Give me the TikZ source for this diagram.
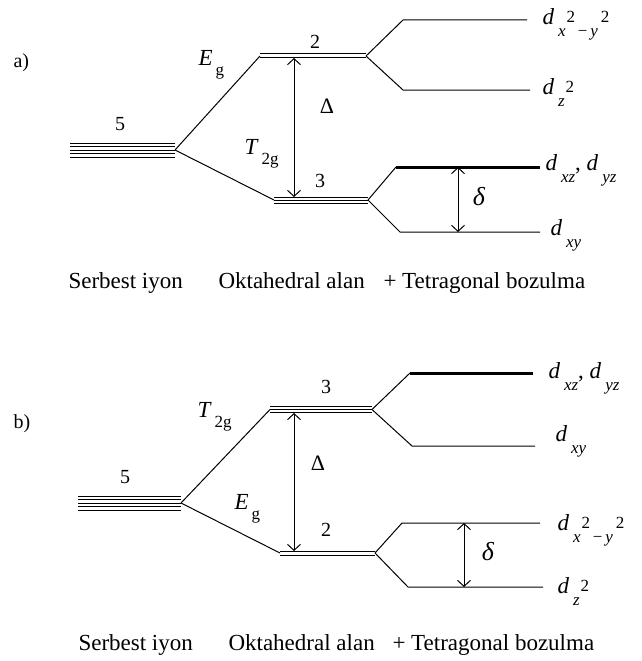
\documentclass[tikz,border=0pt]{standalone}
\usepackage{fontspec}
\setmainfont{Liberation Serif}
\usetikzlibrary{arrows.meta}

% orbital labels: italic d with a lowered italic index; the squares sit high, beside the index
\newcommand{\subsz}{\fontsize{17}{17}\selectfont}
\newcommand{\dorb}[1]{\textit{d}\hspace{4pt}\raisebox{-12pt}{\subsz\textit{#1}}}
\newcommand{\dxy}{\textit{d}\hspace{4pt}{\subsz\raisebox{-12pt}{\textit{x}}\hspace{1pt}\raisebox{2pt}{2}\raisebox{-12pt}{\,−\,\textit{y}}\hspace{3pt}\raisebox{2pt}{2}}}
\newcommand{\dzz}{\textit{d}\hspace{4pt}{\subsz\raisebox{-12pt}{\textit{z}}\hspace{1pt}\raisebox{2pt}{2}}}
\newcommand{\symsub}[2]{\textit{#1}\hspace{3pt}\raisebox{-10pt}{\subsz #2}}

\begin{document}
\begin{tikzpicture}[x=1pt,y=-1pt,line width=1pt,
  gap/.style={{Straight Barb[length=6pt,width=13pt]}-{Straight Barb[length=6pt,width=13pt]},line width=1pt},
  thick level/.style={line width=3pt},
  num/.style={font=\fontsize{20}{20}\selectfont,inner sep=0pt},
  sym/.style={font=\fontsize{23}{23}\selectfont,inner sep=0pt,anchor=base west},
  greek/.style={font=\fontsize{22}{22}\selectfont,inner sep=0pt},
  orb/.style={font=\fontsize{23}{23}\selectfont,inner sep=0pt,anchor=base west},
  part/.style={font=\fontsize{20}{20}\selectfont,inner sep=0pt,anchor=base west},
  caption/.style={font=\fontsize{23}{23}\selectfont,inner sep=0pt,anchor=base west}]
\useasboundingbox (0,0) rectangle (641,661);

% ---------------- a) ----------------
\node[part] (pa) at (13,67) {a)};

\coordinate (a5l) at (70,150);  \coordinate (a5r) at (175,150);
\coordinate (aUl) at (260,56);  \coordinate (aUr) at (366,56);
\coordinate (aLl) at (274,200); \coordinate (aLr) at (368,200);
\foreach \s in {-7,-3.5,0,3.5,7} \draw ([yshift=\s pt]a5l) -- ([yshift=\s pt]a5r);
\foreach \s in {-2,2} \draw ([yshift=\s pt]aUl) -- ([yshift=\s pt]aUr);
\foreach \s in {-3,0,3} \draw ([yshift=\s pt]aLl) -- ([yshift=\s pt]aLr);
\draw (a5r) -- (aUl);
\draw (a5r) -- (aLl);

\node[num] (a5) at (120,124) {5};
\node[num] (a2) at (315,42) {2};
\node[num] (a3) at (320,181) {3};
\node[sym] (aEg) at (198,66) {\symsub{E}{g}};
\node[sym] (aTg) at (244,154) {\symsub{T}{2g}};

\coordinate (aDt) at (294,58); \coordinate (aDb) at (294,197);
\draw[gap] (aDt) -- (aDb);
\node[greek] (aDelta) at (327,106) {Δ};

% tetragonal splitting of the upper pair
\coordinate (aA1) at (403,20);  \coordinate (aA2) at (527,20);
\coordinate (aB1) at (403,90);  \coordinate (aB2) at (530,90);
\draw (aUr) -- (aA1) -- (aA2);
\draw (aUr) -- (aB1) -- (aB2);
% tetragonal splitting of the lower triple
\coordinate (aC1) at (396,167); \coordinate (aC2) at (540,167);
\coordinate (aE1) at (400,232); \coordinate (aE2) at (540,232);
\draw (aLr) -- (aC1);
\draw[thick level] (aC1) -- (aC2);
\draw (aLr) -- (aE1) -- (aE2);
\coordinate (adt) at (458,167); \coordinate (adb) at (458,232);
\draw[gap] (adt) -- (adb);
\node[greek,font=\fontsize{26}{26}\selectfont] (adelta) at (479,197) {\textit{δ}};

\node[orb] (aO1) at (542,25) {\dxy};
\node[orb] (aO2) at (542,95) {\dzz};
\node[orb] (aO3) at (545,170) {\dorb{xz}, \dorb{yz}};
\node[orb] (aO4) at (550,235) {\dorb{xy}};

\node[caption] (aC1t) at (68,288) {Serbest iyon};
\node[caption] (aC2t) at (218,288) {Oktahedral alan};
\node[caption] (aC3t) at (383,288) {+ Tetragonal bozulma};

% ---------------- b) ----------------
\node[part] (pb) at (13,428) {b)};

\coordinate (b5l) at (78,503);  \coordinate (b5r) at (181,503);
\coordinate (bUl) at (270,409.5); \coordinate (bUr) at (372,409.5);
\coordinate (bLl) at (280,553); \coordinate (bLr) at (375,553);
\foreach \s in {-7,-3.5,0,3.5,7} \draw ([yshift=\s pt]b5l) -- ([yshift=\s pt]b5r);
\foreach \s in {-3,0,3} \draw ([yshift=\s pt]bUl) -- ([yshift=\s pt]bUr);
\foreach \s in {-2,2} \draw ([yshift=\s pt]bLl) -- ([yshift=\s pt]bLr);
\draw (b5r) -- (bUl);
\draw (b5r) -- (bLl);

\node[num] (b5) at (125,477) {5};
\node[num] (b3) at (326,387) {3};
\node[num] (b2) at (326,530) {2};
\node[sym] (bTg) at (197,417) {\symsub{T}{2g}};
\node[sym] (bEg) at (234,509) {\symsub{E}{g}};

\coordinate (bDt) at (294,413); \coordinate (bDb) at (294,551);
\draw[gap] (bDt) -- (bDb);
\node[greek] (bDelta) at (318,463) {Δ};

% tetragonal splitting of the upper triple
\coordinate (bA1) at (410,373); \coordinate (bA2) at (533,373);
\coordinate (bB1) at (412,446); \coordinate (bB2) at (535,446);
\draw (bUr) -- (bA1);
\draw[thick level] (bA1) -- (bA2);
\draw (bUr) -- (bB1) -- (bB2);
% tetragonal splitting of the lower pair
\coordinate (bC1) at (402,523); \coordinate (bC2) at (540,523);
\coordinate (bE1) at (408,587); \coordinate (bE2) at (543,587);
\draw (bLr) -- (bC1) -- (bC2);
\draw (bLr) -- (bE1) -- (bE2);
\coordinate (bdt) at (464,523); \coordinate (bdb) at (464,587);
\draw[gap] (bdt) -- (bdb);
\node[greek,font=\fontsize{26}{26}\selectfont] (bdelta) at (488,552) {\textit{δ}};

\node[orb] (bO1) at (548,378) {\dorb{xz}, \dorb{yz}};
\node[orb] (bO2) at (555,441) {\dorb{xy}};
\node[orb] (bO3) at (557,530) {\dxy};
\node[orb] (bO4) at (557,593) {\dzz};

\node[caption] (bC1t) at (78,650) {Serbest iyon};
\node[caption] (bC2t) at (228,650) {Oktahedral alan};
\node[caption] (bC3t) at (392,650) {+ Tetragonal bozulma};
\end{tikzpicture}
\end{document}
